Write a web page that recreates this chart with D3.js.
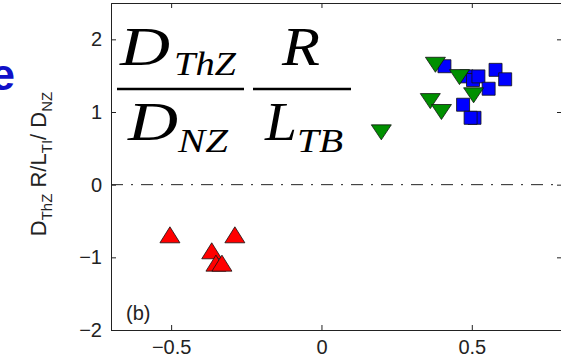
<!DOCTYPE html>
<html lang="en">
<head>
  <meta charset="UTF-8">
  <title>D_ThZ R/L_TI / D_NZ scatter (b)</title>
  <script src="https://d3js.org/d3.v7.min.js"></script>
  <style>
    body { margin: 0; background: #fff; }
    svg { display: block; }
    .tick-label { font-family: 'Liberation Sans', Arial, sans-serif; font-size: 20px; fill: #222; }
    .math { font-family: 'Liberation Serif', 'Times New Roman', serif; font-style: italic; fill: #000; }
  </style>
</head>
<body>
<svg width="561" height="359"></svg>
<script>
  // data
  const xTicks = [-0.5, 0, 0.5];
  const yTicks = [-2, -1, 0, 1, 2];
  const redX = [-0.504, -0.288, -0.365, -0.351, -0.331];
  const redY = [-0.69, -0.69, -0.91, -1.08, -1.08];
  const blueX = [0.409, 0.482, 0.504, 0.522, 0.579, 0.611, 0.556, 0.471, 0.509, 0.496];
  const blueY = [1.63, 1.49, 1.44, 1.49, 1.58, 1.45, 1.32, 1.10, 0.92, 0.92];
  const greenX = [0.379, 0.459, 0.506, 0.362, 0.399, 0.199];
  const greenY = [1.65, 1.48, 1.23, 1.15, 1.00, 0.72];

  const svg = d3.select("svg");
  const plotL = 111, plotR = 562, plotT = 3, plotB = 330;

  const x = d3.scaleLinear().domain([-0.7, 0.8]).range([plotL, plotR]);
  const y = d3.scaleLinear().domain([-2, 2.5]).range([plotB, plotT]);

  const fmt = v => (v < 0 ? "\u2212" : "") + Math.abs(v);

  // zero line, dash-dot
  svg.append("line")
    .attr("x1", plotL).attr("x2", plotR)
    .attr("y1", y(0)).attr("y2", y(0))
    .attr("stroke", "#222").attr("stroke-width", 1)
    .attr("stroke-dasharray", "12,8,2,8");

  // axes (ticks pointing inward)
  svg.append("g")
    .attr("transform", `translate(0,${plotB})`)
    .call(d3.axisBottom(x).tickValues(xTicks).tickSize(-5).tickPadding(10).tickFormat(fmt))
    .call(g => g.selectAll("text").attr("class", "tick-label").attr("font-size", null).attr("font-family", null));
  svg.append("g")
    .attr("transform", `translate(0,${plotT})`)
    .call(d3.axisTop(x).tickValues(xTicks).tickSize(-5).tickFormat(""));
  svg.append("g")
    .attr("transform", `translate(${plotL},0)`)
    .call(d3.axisLeft(y).tickValues(yTicks).tickSize(-5).tickPadding(9).tickFormat(fmt))
    .call(g => g.selectAll("text").attr("class", "tick-label").attr("font-size", null).attr("font-family", null));
  svg.append("g")
    .attr("transform", `translate(${plotR},0)`)
    .call(d3.axisRight(y).tickValues(yTicks).tickSize(-5).tickFormat(""));
  svg.selectAll(".domain").attr("stroke", "#222");
  svg.selectAll(".tick line").attr("stroke", "#222");

  // markers
  const tri = (w, h, up) => up
    ? `M0,${-h / 2}L${w / 2},${h / 2}L${-w / 2},${h / 2}Z`
    : `M0,${h / 2}L${w / 2},${-h / 2}L${-w / 2},${-h / 2}Z`;
  const sq = s => `M${-s / 2},${-s / 2}h${s}v${s}h${-s}Z`;

  function drawMarkers(xs, ys, path, fill) {
    svg.append("g").selectAll("path")
      .data(xs.map((v, i) => [v, ys[i]]))
      .join("path")
      .attr("transform", d => `translate(${x(d[0])},${y(d[1])})`)
      .attr("d", path)
      .attr("fill", fill)
      .attr("stroke", "#111")
      .attr("stroke-width", 0.8);
  }
  drawMarkers(blueX, blueY, sq(13), "#0000ff");
  drawMarkers(greenX, greenY, tri(20, 15, false), "#009000");
  drawMarkers(redX, redY, tri(20, 16, true), "#ff0000");

  // panel label
  svg.append("text")
    .attr("class", "tick-label")
    .attr("x", 126).attr("y", 320)
    .text("(b)");

  // y-axis label
  const yl = svg.append("text")
    .attr("class", "tick-label")
    .attr("font-size", 22)
    .attr("text-anchor", "middle")
    .attr("transform", "translate(46,164) rotate(-90)");
  [["D", 0], ["ThZ", 1], [" R/L", 0], ["TI", 1], ["/ D", 0], ["NZ", 1]].forEach(([t, s], i, arr) => {
    const prev = i > 0 ? arr[i - 1][1] : 0;
    yl.append("tspan")
      .attr("font-size", s ? 15 : 22)
      .attr("dy", s === prev ? 0 : (s ? 6 : -6))
      .text(t);
  });

  // big math overlay
  const mathParts = [
    ["D", 120, 65, 54, 50],
    ["ThZ", 174, 75, 34, 62],
    ["D", 128, 140, 54, 50],
    ["NZ", 178, 152, 34, 50],
    ["R", 282, 65, 54, 38],
    ["L", 265, 140, 54, 32],
    ["TB", 297, 152, 34, 46]
  ];
  mathParts.forEach(([t, px, py, fs, w]) => {
    svg.append("text").attr("class", "math")
      .attr("x", px).attr("y", py)
      .attr("font-size", fs)
      .attr("textLength", w).attr("lengthAdjust", "spacingAndGlyphs")
      .text(t);
  });
  [[117, 244], [253, 351]].forEach(([a, b]) => {
    svg.append("line").attr("x1", a).attr("x2", b)
      .attr("y1", 89).attr("y2", 89)
      .attr("stroke", "#000").attr("stroke-width", 2.6);
  });

  // clipped slide title remnant
  svg.append("text")
    .attr("x", 15).attr("y", 90)
    .attr("text-anchor", "end")
    .attr("font-family", "'Liberation Sans', Arial, sans-serif")
    .attr("font-weight", "bold")
    .attr("font-size", 44)
    .attr("fill", "#1010c8")
    .text("e");
</script>
</body>
</html>
